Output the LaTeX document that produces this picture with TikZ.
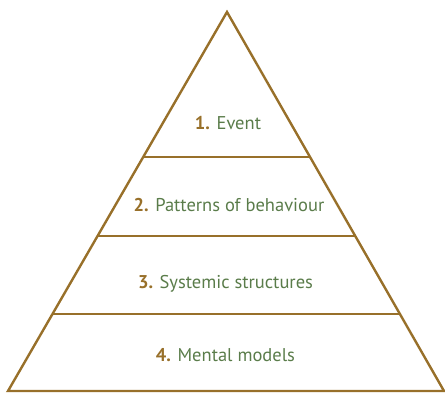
\documentclass[tikz,border=0pt]{standalone}
\usepackage{fontspec}
\setmainfont{PT Sans}
\usetikzlibrary{calc}
\definecolor{pyrbrown}{HTML}{98702A}
\definecolor{pyrgreen}{HTML}{5A7C4A}
\tikzset{
  edge/.style={draw=pyrbrown, line width=2.4pt, line join=miter},
  level/.style={font=\fontsize{18.5}{20}\selectfont, text=pyrgreen, anchor=base, inner sep=0pt}
}
\begin{document}
\begin{tikzpicture}[x=1pt, y=1pt]
    \useasboundingbox (0,0) rectangle (445,392);
    % corners of the pyramid
    \coordinate (apex) at (227, 380);
    \coordinate (bl) at (8, 1);
    \coordinate (br) at (444, 1);
    \draw[edge] (bl) -- (apex) -- (br) -- cycle;
    % dividing lines
    \coordinate (l1) at ($(apex)!0.3826!(bl)$);
    \coordinate (r1) at ($(apex)!0.3826!(br)$);
    \coordinate (l2) at ($(apex)!0.591!(bl)$);
    \coordinate (r2) at ($(apex)!0.591!(br)$);
    \coordinate (l3) at ($(apex)!0.797!(bl)$);
    \coordinate (r3) at ($(apex)!0.797!(br)$);
    \draw[edge] (l1) -- (r1);
    \draw[edge] (l2) -- (r2);
    \draw[edge] (l3) -- (r3);
    % labels
    \node[level] (event) at (228, 262) {\textcolor{pyrbrown}{\bfseries 1.} Event};
    \node[level] (patterns) at (229, 181) {\textcolor{pyrbrown}{\bfseries 2.} Patterns of behaviour};
    \node[level] (structures) at (225.5, 104) {\textcolor{pyrbrown}{\bfseries 3.} Systemic structures};
    \node[level] (models) at (225.5, 31) {\textcolor{pyrbrown}{\bfseries 4.} Mental models};
\end{tikzpicture}
\end{document}
